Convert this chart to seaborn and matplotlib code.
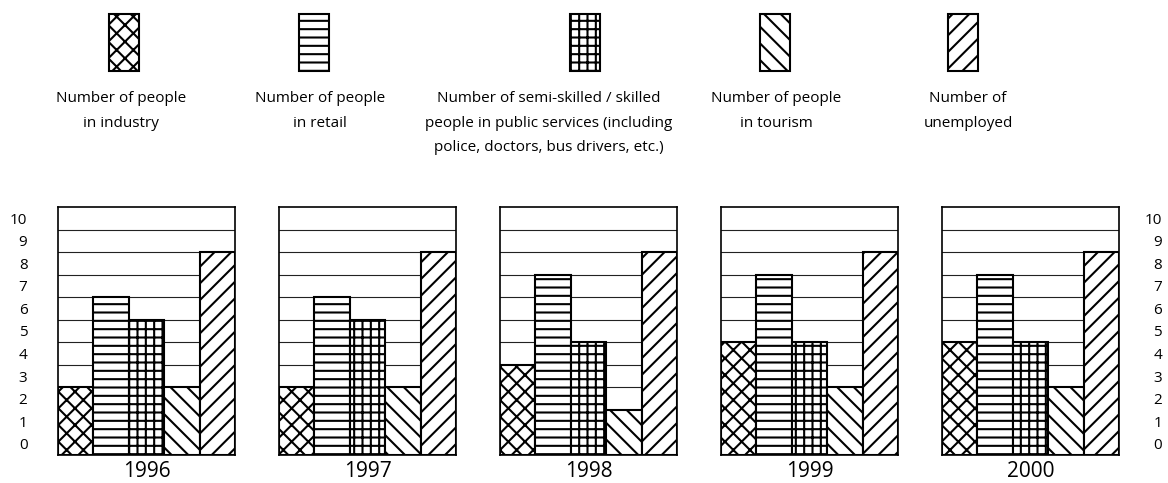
import matplotlib.pyplot as plt
import pandas as pd
import seaborn as sns

# values (in grid units, 0 = baseline)
years = ["1996", "1997", "1998", "1999", "2000"]
categories = ["industry", "retail", "public services", "tourism", "unemployed"]
industry = [3, 3, 4, 5, 5]
retail = [7, 7, 8, 8, 8]
public_services = [6, 6, 5, 5, 5]
tourism = [3, 3, 2, 3, 3]
unemployed = [9, 9, 9, 9, 9]
tick_labels = [str(i) for i in range(11)]
legend_labels = [
    "Number of people\nin industry",
    "Number of people\nin retail",
    "Number of semi-skilled / skilled\npeople in public services (including\npolice, doctors, bus drivers, etc.)",
    "Number of people\nin tourism",
    "Number of\nunemployed",
]
hatches = ["xx", "--", "++", "\\\\", "//"]

sns.set_style("white")
plt.rcParams["font.family"] = ["Open Sans", "DejaVu Sans"]
plt.rcParams["hatch.linewidth"] = 1.5
plt.rcParams["hatch.color"] = "black"
for key in ["text.color", "axes.labelcolor", "xtick.color", "ytick.color"]:
    plt.rcParams[key] = "black"

W, H = 1168, 483
fig = plt.figure(figsize=(W / 100, H / 100), dpi=100)


def px_rect(x0, y0, x1, y1):
    return [x0 / W, 1 - y1 / H, (x1 - x0) / W, (y1 - y0) / H]


# legend: swatch above a centred caption
swatch_x = [124, 314, 585, 775, 963]
label_x = [121, 320, 549, 776, 968]
for sx, lx, lab, h in zip(swatch_x, label_x, legend_labels, hatches):
    lax = fig.add_axes(px_rect(sx - 15, 14, sx + 15, 71))
    lax.bar([0], [1], width=1, color="white", edgecolor="black",
            linewidth=1.5, hatch=h, clip_on=False)
    lax.set_xlim(-0.5, 0.5)
    lax.set_ylim(0, 1)
    lax.axis("off")
    fig.text(lx / W, 1 - 91 / H, lab, ha="center", va="top", fontsize=11,
             linespacing=1.87, multialignment="center")

# one panel per year
for i, year in enumerate(years):
    df = pd.DataFrame({
        "category": categories,
        "value": [industry[i], retail[i], public_services[i], tourism[i], unemployed[i]],
    })
    left = 58 + 221 * i
    ax = fig.add_axes(px_rect(left, 207, left + 177, 455))
    sns.barplot(data=df, x="category", y="value", hue="category",
                palette=["white"] * 5, edgecolor="black", linewidth=1.5,
                width=1.0, legend=False, ax=ax)
    for patch, h in zip(ax.patches, hatches):
        patch.set_hatch(h)
    ax.set_xlim(-0.5, 4.5)
    ax.set_ylim(0, 11)
    ax.set_axisbelow(True)
    ax.set_yticks([k + 0.5 for k in range(11)])
    ax.set_yticks(range(1, 11), minor=True)
    ax.grid(which="minor", axis="y", color="#222222", linewidth=0.8)
    ax.grid(which="major", visible=False)
    ax.set_xticks([])
    ax.tick_params(which="both", length=0)
    ax.set_ylabel("")
    ax.set_xlabel("")
    # year caption below the panel (baseline ~22 px under the frame)
    ax.text(0.5, -22 / 248, year, transform=ax.transAxes, ha="center",
            va="baseline", fontsize=15)
    for sp in ax.spines.values():
        sp.set_color("black")
        sp.set_linewidth(1.2)
    if i == 0:
        ax.set_yticklabels(tick_labels, fontsize=11)
        ax.tick_params(axis="y", pad=22)
    elif i == len(years) - 1:
        ax.yaxis.tick_right()
        ax.set_yticklabels(tick_labels, fontsize=11)
        ax.tick_params(axis="y", which="both", length=0, pad=31)
        for t in ax.get_yticklabels():
            t.set_ha("right")
    else:
        ax.set_yticklabels([])

fig.savefig("out.png", dpi=100)
